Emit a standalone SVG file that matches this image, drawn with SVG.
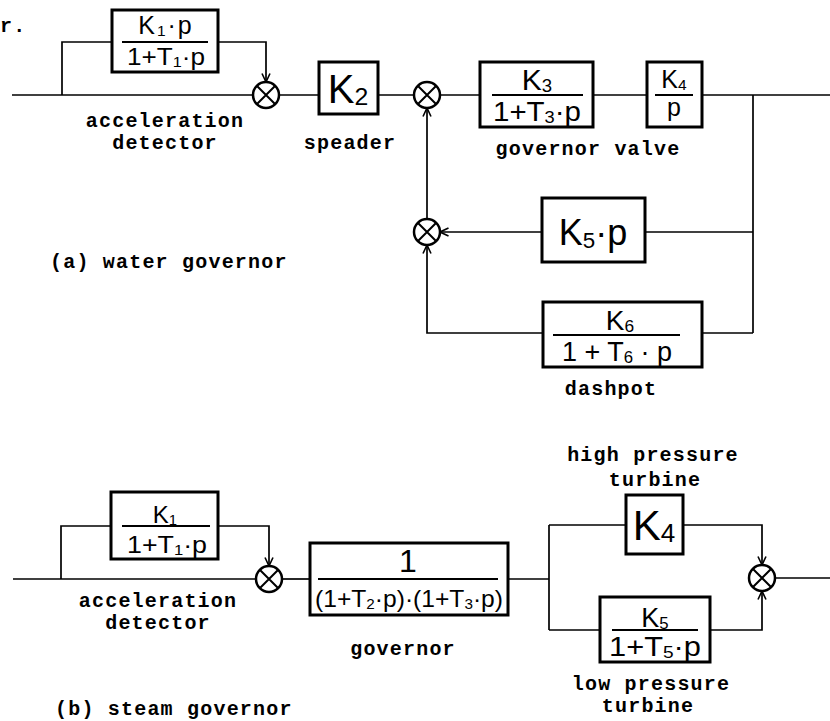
<svg xmlns="http://www.w3.org/2000/svg" width="830" height="721" viewBox="0 0 830 721">
<defs>
<marker id="ar" viewBox="0 0 10 10" refX="9.5" refY="5" markerWidth="10" markerHeight="10" markerUnits="userSpaceOnUse" orient="auto">
<path d="M1,1 L9.5,5 L1,9" fill="none" stroke="#000" stroke-width="1.6"/>
</marker>
<g id="sumsym">
<circle cx="0" cy="0" r="13" fill="#fff" stroke="#000" stroke-width="2.5"/>
<path d="M-9,-9 L9,9 M9,-9 L-9,9" stroke="#000" stroke-width="2"/>
</g>
</defs>
<style>
.box{fill:#fff;stroke:#000;stroke-width:3}
.ln{fill:none;stroke:#000;stroke-width:1.7}
.ar{marker-end:url(#ar)}
.fr{stroke:#000;stroke-width:2}
.lbl{font-family:"Liberation Mono","DejaVu Sans Mono",monospace;font-size:20px;letter-spacing:1.2px;font-weight:bold;text-anchor:middle;fill:#000}
.m{font-family:"Liberation Sans","DejaVu Sans",sans-serif;text-anchor:middle;fill:#000}
.s{font-size:62%}
</style>
<rect width="830" height="721" fill="#fff"/>

<text class="lbl" x="0" y="32" style="text-anchor:start">r.</text>

<g id="connectors">
<!-- (a) water governor -->
<path class="ln" d="M12,95 H253"/>
<path class="ln" d="M62,95 V42 H112"/>
<path class="ln ar" d="M218,42 H266 V82"/>
<path class="ln" d="M279,95 H319"/>
<path class="ln" d="M378,95 H414"/>
<path class="ln" d="M440,95 H480"/>
<path class="ln" d="M593,95 H647"/>
<path class="ln" d="M702,95 H830"/>
<path class="ln" d="M753,95 V333"/>
<path class="ln" d="M753,232 H645"/>
<path class="ln ar" d="M542,232 H440"/>
<path class="ln" d="M753,333 H702"/>
<path class="ln ar" d="M543,333 H427 V245"/>
<path class="ln ar" d="M427,219 V108"/>
<!-- (b) steam governor -->
<path class="ln" d="M13,579 H256"/>
<path class="ln" d="M61,579 V526 H111"/>
<path class="ln ar" d="M218,526 H269 V566"/>
<path class="ln" d="M282,579 H310"/>
<path class="ln" d="M508,579 H549"/>
<path class="ln" d="M549,525 V630"/>
<path class="ln" d="M549,525 H626"/>
<path class="ln ar" d="M683,525 H762 V565"/>
<path class="ln" d="M549,630 H600"/>
<path class="ln ar" d="M710,630 H762 V591"/>
<path class="ln" d="M775,578 H830"/>
</g>

<!-- (a) nodes -->
<g id="acc-a">
<rect class="box" x="112" y="10" width="106" height="62"/>
<text class="m" x="166" y="34" font-size="25" letter-spacing="2">K<tspan class="s" dy="2">1</tspan><tspan dy="-2">·p</tspan></text>
<line class="fr" x1="122" y1="42" x2="208" y2="42"/>
<text class="m" x="166" y="65" font-size="23" textLength="78" lengthAdjust="spacingAndGlyphs">1+T<tspan class="s" dy="2">1</tspan><tspan dy="-2">·p</tspan></text>
<text class="lbl" x="165" y="127">acceleration</text>
<text class="lbl" x="165" y="149">detector</text>
</g>
<g id="sum1"><use href="#sumsym" x="266" y="95"/></g>
<g id="speader">
<rect class="box" x="319" y="62" width="59" height="52"/>
<text class="m" x="348" y="103" font-size="40">K<tspan class="s" dy="2">2</tspan></text>
<text class="lbl" x="350" y="149">speader</text>
</g>
<g id="sum2"><use href="#sumsym" x="427" y="95"/></g>
<g id="valve">
<rect class="box" x="480" y="62" width="113" height="65"/>
<text class="m" x="537" y="90" font-size="30">K<tspan class="s" dy="2">3</tspan></text>
<line class="fr" x1="492" y1="95" x2="583" y2="95"/>
<text class="m" x="537" y="121" font-size="27" textLength="88" lengthAdjust="spacingAndGlyphs">1+T<tspan class="s" dy="2">3</tspan><tspan dy="-2">·p</tspan></text>
<text class="lbl" x="588" y="155">governor valve</text>
</g>
<g id="k4a">
<rect class="box" x="647" y="62" width="55" height="65"/>
<text class="m" x="674" y="88" font-size="25">K<tspan class="s" dy="2">4</tspan></text>
<line class="fr" x1="655" y1="95" x2="693" y2="95"/>
<text class="m" x="674" y="116" font-size="25">p</text>
</g>
<g id="sum3"><use href="#sumsym" x="427" y="232"/></g>
<g id="k5a">
<rect class="box" x="542" y="198" width="103" height="64"/>
<text class="m" x="593" y="245" font-size="36">K<tspan class="s" dy="3">5</tspan><tspan dy="-3">·p</tspan></text>
</g>
<g id="dashpot">
<rect class="box" x="543" y="302" width="159" height="65"/>
<text class="m" x="620" y="330" font-size="28">K<tspan class="s" dy="2">6</tspan></text>
<line class="fr" x1="553" y1="335" x2="680" y2="335"/>
<text class="m" x="617" y="361" font-size="27">1 + T<tspan class="s" dy="2">6</tspan><tspan dy="-2"> · p</tspan></text>
<text class="lbl" x="611" y="395">dashpot</text>
</g>
<text class="lbl" x="50" y="268" style="text-anchor:start">(a) water governor</text>

<!-- (b) nodes -->
<g id="acc-b">
<rect class="box" x="111" y="492" width="107" height="67"/>
<text class="m" x="165" y="523" font-size="24">K<tspan class="s" dy="2">1</tspan></text>
<line class="fr" x1="122" y1="526" x2="210" y2="526"/>
<text class="m" x="167" y="553" font-size="24" textLength="80" lengthAdjust="spacingAndGlyphs">1+T<tspan class="s" dy="2">1</tspan><tspan dy="-2">·p</tspan></text>
<text class="lbl" x="158" y="607">acceleration</text>
<text class="lbl" x="158" y="629">detector</text>
</g>
<g id="sum4"><use href="#sumsym" x="269" y="579"/></g>
<g id="governor">
<rect class="box" x="310" y="543" width="198" height="72"/>
<text class="m" x="408" y="572" font-size="32">1</text>
<line class="fr" x1="318" y1="579" x2="498" y2="579"/>
<text class="m" x="409" y="607" font-size="24" textLength="188" lengthAdjust="spacingAndGlyphs">(1+T<tspan class="s" dy="2">2</tspan><tspan dy="-2">·p)·(1+T</tspan><tspan class="s" dy="2">3</tspan><tspan dy="-2">·p)</tspan></text>
<text class="lbl" x="403" y="655">governor</text>
</g>
<g id="hp-turbine">
<rect class="box" x="626" y="495" width="57" height="59"/>
<text class="m" x="654" y="540" font-size="42">K<tspan class="s" dy="2">4</tspan></text>
<text class="lbl" x="653" y="461">high pressure</text>
<text class="lbl" x="655" y="486">turbine</text>
</g>
<g id="sum5"><use href="#sumsym" x="762" y="578"/></g>
<g id="lp-turbine">
<rect class="box" x="600" y="597" width="110" height="65"/>
<text class="m" x="655" y="627" font-size="27">K<tspan class="s" dy="2">5</tspan></text>
<line class="fr" x1="612" y1="630" x2="698" y2="630"/>
<text class="m" x="655" y="656" font-size="27" textLength="92" lengthAdjust="spacingAndGlyphs">1+T<tspan class="s" dy="2">5</tspan><tspan dy="-2">·p</tspan></text>
<text class="lbl" x="651" y="690">low pressure</text>
<text class="lbl" x="648" y="712">turbine</text>
</g>
<text class="lbl" x="55" y="715" style="text-anchor:start">(b) steam governor</text>
</svg>
